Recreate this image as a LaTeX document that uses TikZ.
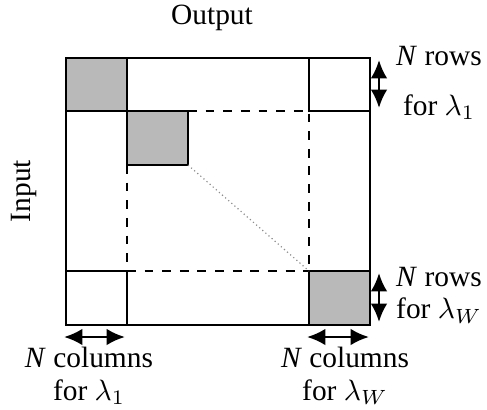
\documentclass[tikz,border=0pt]{standalone}
\usepackage{fontspec}
\setmainfont{Liberation Serif}
\usepackage{tikz}
\usetikzlibrary{arrows.meta,positioning}
\definecolor{cellgray}{RGB}{185,185,185}

\begin{document}
\begin{tikzpicture}[
    x=0.34pt, y=-0.34pt,
    block/.style={draw, fill=cellgray, line width=0.7pt},
    frame/.style={draw, line width=0.7pt},
    guide/.style={dashed, line width=0.5pt},
    span/.style={{Latex[length=2.2mm,width=2mm]}-{Latex[length=2.2mm,width=2mm]}, line width=0.9pt},
    lbl/.style={font=\fontsize{10}{12}\selectfont, align=center, inner sep=0pt}
]
    \useasboundingbox (0,0) rectangle (487,409);

    % Matrix corners and block edges
    \coordinate (tl) at (66,58);
    \coordinate (br) at (370,325);
    \coordinate (a1) at (127,111);
    \coordinate (a2) at (188,165);
    \coordinate (b1) at (309,271);

    % Shaded blocks
    \draw[block] (tl) rectangle (a1);
    \draw[block] (a1) rectangle (a2);
    \draw[block] (b1) rectangle (br);

    % Outer frame and block lines
    \draw[frame] (tl) rectangle (br);
    \draw[frame] (309,58) -- (309,111) -- (370,111);
    \draw[frame] (66,271) -- (127,271) -- (127,325);

    % Dashed guides
    \draw[guide] (a2 |- a1) -- (309,111) -- (b1);
    \draw[guide] (a1 |- a2) -- (127,271) -- (b1);

    % Diagonal
    \draw[densely dotted, black!45, line width=0.4pt] (a2) -- (b1);

    % Axis labels
    \node[lbl] (out) at (212,18) {Output};
    \node[lbl, rotate=90] (in) at (24,191) {Input};

    % Row arrows
    \coordinate (r1a) at (379,60);
    \coordinate (r1b) at (379,108);
    \coordinate (rwa) at (379,273);
    \coordinate (rwb) at (379,322);
    \draw[span] (r1a) -- (r1b);
    \draw[span] (rwa) -- (rwb);
    \node[lbl] (row1) at (439,83) {\textit{N} rows\\[5pt]for $\lambda_1$};
    \node[lbl] (roww) at (439,295) {\textit{N} rows\\[-1pt]for $\lambda_W$};

    % Column arrows
    \coordinate (c1a) at (64,337);
    \coordinate (c1b) at (125,337);
    \coordinate (cwa) at (307,337);
    \coordinate (cwb) at (369,337);
    \draw[span] (c1a) -- (c1b);
    \draw[span] (cwa) -- (cwb);
    \node[lbl] (col1) at (89,376) {\textit{N} columns\\[-1pt]for $\lambda_1$};
    \node[lbl] (colw) at (345,376) {\textit{N} columns\\[-1pt]for $\lambda_W$};
\end{tikzpicture}
\end{document}
